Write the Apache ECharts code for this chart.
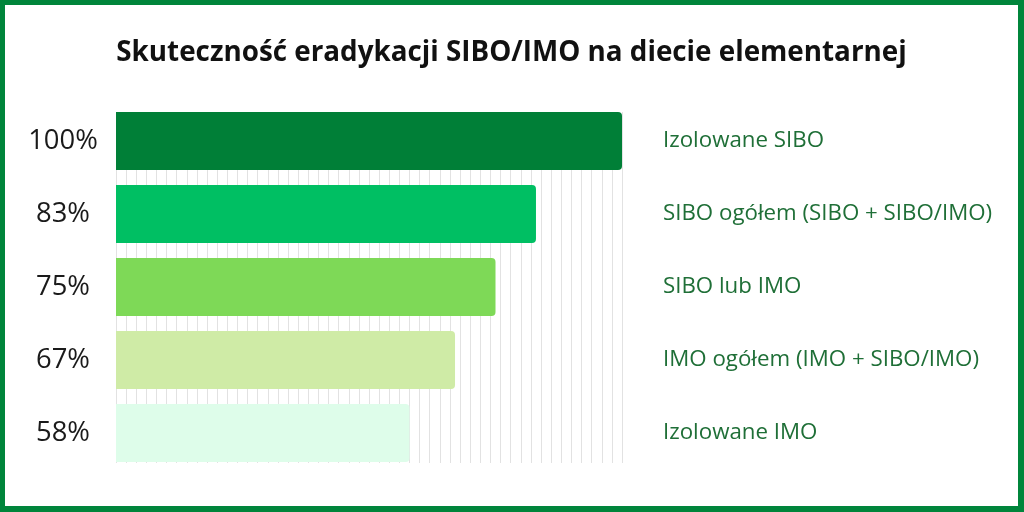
<!DOCTYPE html>
<html><head><meta charset="utf-8">
<script src="https://cdn.jsdelivr.net/npm/echarts@6/dist/echarts.min.js"></script>
<style>
html,body{margin:0;padding:0;background:#fff;}
#c{width:1024px;height:512px;box-sizing:border-box;border:5px solid #00853B;border-right-width:6px;border-bottom-width:6px;}
</style></head>
<body><div id="c"></div>
<script>
const categories = ['Izolowane SIBO','SIBO ogółem (SIBO + SIBO/IMO)','SIBO lub IMO','IMO ogółem (IMO + SIBO/IMO)','Izolowane IMO'];
const values = [100, 83, 75, 67, 58];
const colors = ['#007F37','#00BF63','#7ED957','#CFEBA6','#DEFDEA'];
const titleText = 'Skuteczność eradykacji SIBO/IMO na diecie elementarnej';

const chart = echarts.init(document.getElementById('c'), null, {width:1013, height:501});
const ox = 5, oy = 5;
chart.setOption({
  animation:false,
  title:{text:titleText,left:'center',top:34-oy,textStyle:{fontFamily:'Open Sans',fontWeight:'bold',fontSize:27.8,color:'#111'}},
  grid:[
    {left:116-ox,width:506,top:104.5-oy,height:365},
    {left:116-ox,width:506,top:112-oy,height:351}
  ],
  xAxis:[
    {gridIndex:0,type:'value',min:0,max:100,show:false,splitLine:{show:false}},
    {gridIndex:1,type:'value',min:0,max:100,interval:2,axisLine:{show:false},axisTick:{show:false},axisLabel:{show:false},splitLine:{show:true,lineStyle:{color:'#e2e2e2',width:1}}}
  ],
  yAxis:[
    {gridIndex:0,type:'category',data:categories,inverse:true,axisLine:{show:false},axisTick:{show:false},
     axisLabel:{margin:53,align:'center',fontFamily:'Open Sans',fontSize:27.4,color:'#1a1a1a',
       formatter:(v,i)=>values[i]+'%'}},
    {gridIndex:0,type:'category',data:categories,inverse:true,position:'right',axisLine:{show:false},axisTick:{show:false},
     axisLabel:{margin:41,align:'left',fontFamily:'Open Sans',fontSize:22.3,color:'#1F6F37'}},
    {gridIndex:1,type:'value',show:false}
  ],
  series:[{
    type:'bar',xAxisIndex:0,yAxisIndex:0,data:values.map((v,i)=>({value:v,itemStyle:{color:colors[i]}})),
    barCategoryGap:'20.5%',itemStyle:{borderRadius:[0,4,4,0]},z:3
  }]
});
</script></body></html>
